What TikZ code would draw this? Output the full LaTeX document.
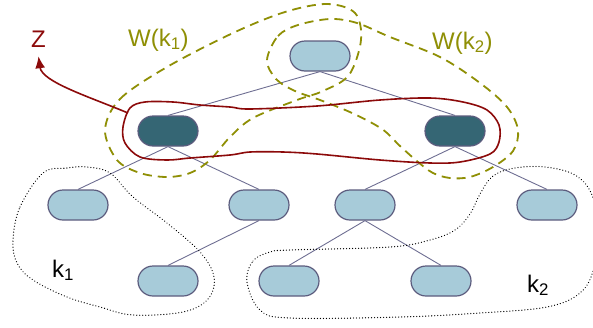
\documentclass[tikz,border=0pt]{standalone}
\usepackage{fontspec}
\setmainfont{Liberation Sans}
\usetikzlibrary{arrows.meta}
\definecolor{nlight}{HTML}{A7CBD9}
\definecolor{nborder}{HTML}{5C5C7E}
\definecolor{ndark}{HTML}{356674}
\definecolor{edgecol}{HTML}{6E6E92}
\definecolor{zred}{HTML}{8C0A0A}
\definecolor{wolive}{HTML}{8F8F05}
\tikzset{
  tnode/.style={draw=nborder, line width=1.2pt, fill=nlight, minimum width=60pt, minimum height=30pt, rounded corners=15pt, inner sep=0pt},
  dnode/.style={tnode, fill=ndark},
  tedge/.style={draw=edgecol, line width=0.9pt},
  wset/.style={draw=wolive, line width=1.8pt, dash pattern=on 9pt off 6pt},
  kset/.style={draw=black, line width=1.3pt, dash pattern=on 0.01pt off 3pt, line cap=round},
  zloop/.style={draw=zred, line width=1.6pt},
  lbl/.style={font=\fontsize{24}{28}\selectfont, inner sep=0pt, anchor=base},
}
\begin{document}
\begin{tikzpicture}[x=1pt, y=-1pt]
\useasboundingbox (0,0) rectangle (593,327);
% nodes
\node[tnode] (root) at (320,56) {};
\node[dnode] (L) at (168,131) {};
\node[dnode] (R) at (455,131) {};
\node[tnode] (A) at (78,205) {};
\node[tnode] (B) at (259,205) {};
\node[tnode] (C) at (365,205) {};
\node[tnode] (D) at (547,205) {};
\node[tnode] (E) at (168,281) {};
\node[tnode] (F) at (289,281) {};
\node[tnode] (G) at (441,281) {};
% edges
\draw[tedge] (root.south) -- (L.north);
\draw[tedge] (root.south) -- (R.north);
\draw[tedge] (L.south) -- (A.north);
\draw[tedge] (L.south) -- (B.north);
\draw[tedge] (B.south) -- (E.north);
\draw[tedge] (R.south) -- (C.north);
\draw[tedge] (R.south) -- (D.north);
\draw[tedge] (C.south) -- (F.north);
\draw[tedge] (C.south) -- (G.north);
% dotted regions k1, k2
\draw[kset] plot[smooth cycle, tension=0.6] coordinates {
  (13,240) (20,207) (43,173) (67,168) (87,167) (110,173) (133,197) (167,223)
  (200,252) (214,277) (208,299) (183,312) (133,315) (100,307) (67,297) (33,280) (17,263)};
\draw[kset] plot[smooth cycle, tension=0.6] coordinates {
  (247,282) (253,261) (270,252) (290,250) (390,247) (430,240) (455,230) (470,214)
  (480,194) (493,176) (515,168) (545,167) (575,175) (592,195) (598,230) (594,268)
  (580,293) (547,307) (480,313) (400,317) (290,318) (260,310)};
% W sets
\draw[wset] plot[smooth cycle, tension=0.55] coordinates {
  (105,130) (120,99) (167,67) (233,33) (285,12) (327,4) (355,13) (361,40)
  (349,75) (323,91) (297,100) (253,118) (230,137) (210,160) (190,173) (167,177)
  (140,173) (117,160)};
\draw[wset] plot[smooth cycle, tension=0.55] coordinates {
  (267,60) (278,36) (298,25) (330,19) (357,23) (390,37) (440,57) (480,83)
  (507,107) (518,130) (513,151) (493,167) (470,177) (450,178) (433,173) (418,162)
  (400,146) (382,129) (352,113) (320,100) (295,91) (276,79)};
% Z loop
\draw[zloop] plot[smooth cycle, tension=0.55] coordinates {
  (123,127) (130,108) (145,102) (173,102) (200,105) (230,107) (250,109) (317,106)
  (380,100) (430,98) (463,102) (487,110) (499,125) (499,142) (490,154) (460,162)
  (430,163) (380,160) (317,154) (283,152) (250,152) (230,155) (190,158) (167,160)
  (140,157) (125,143)};
\coordinate (zstart) at (128,113);
% labels
\node[lbl, text=zred] (Z) at (38.5,47) {Z};
\node[lbl, text=wolive, anchor=base west] (W1) at (128,46) {W(k\textsubscript{1})};
\node[lbl, text=wolive, anchor=base west] (W2) at (432,49) {W(k\textsubscript{2})};
\node[lbl, anchor=base west] (k1) at (52,277) {k\textsubscript{1}};
\node[lbl, anchor=base west] (k2) at (527,292) {k\textsubscript{2}};
\draw[zloop, -{Latex[length=12pt,width=10pt]}] (zstart) .. controls (90,97) and (42,82) .. ([yshift=-9pt]Z.south);
\end{tikzpicture}
\end{document}
